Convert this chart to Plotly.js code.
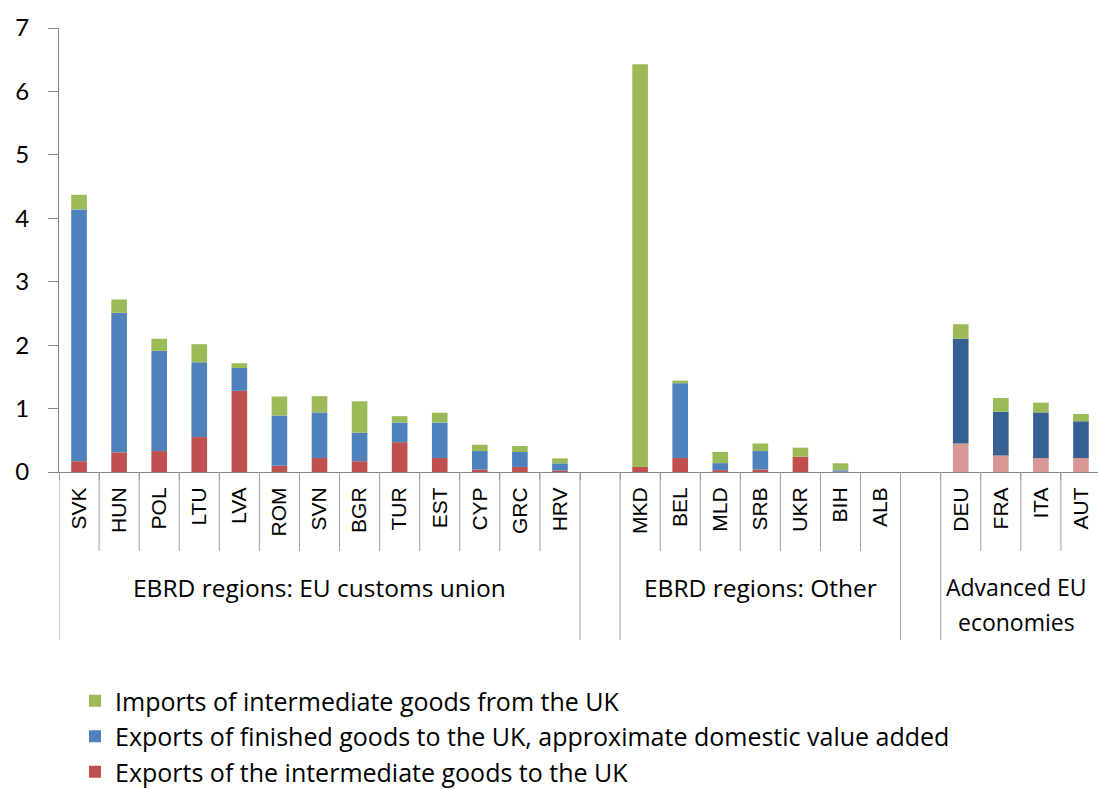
<!DOCTYPE html>
<html>
<head>
<meta charset="utf-8">
<script src="https://cdn.plot.ly/plotly-3.0.1.min.js"></script>
<style>html,body{margin:0;padding:0;background:#fff;overflow:hidden;width:1098px;height:789px;}</style>
</head>
<body>
<div id="chart" style="width:1098px;height:810px;"></div>
<script>
// Categories (spacers ' ' and '  ' separate the three groups)
const categories = ['SVK','HUN','POL','LTU','LVA','ROM','SVN','BGR','TUR','EST','CYP','GRC','HRV',' ',
                    'MKD','BEL','MLD','SRB','UKR','BIH','ALB','  ',
                    'DEU','FRA','ITA','AUT'];
const advancedEU = ['DEU','FRA','ITA','AUT'];

// Series values (percent)
const exportsIntermediate = [0.17,0.31,0.33,0.55,1.28,0.10,0.22,0.17,0.47,0.22,0.04,0.08,0.02,null,
                             0.08,0.22,0.03,0.04,0.24,0.005,0,null,
                             0.45,0.26,0.22,0.22];
const exportsFinished     = [3.97,2.20,1.58,1.18,0.36,0.79,0.72,0.45,0.31,0.56,0.29,0.235,0.117,null,
                             -0.02,1.18,0.11,0.29,0,0.022,0,null,
                             1.65,0.69,0.72,0.58];
const importsIntermediate = [0.23,0.21,0.19,0.285,0.075,0.30,0.255,0.495,0.10,0.155,0.10,0.095,0.078,null,
                             6.35,0.04,0.175,0.12,0.144,0.11,0,null,
                             0.23,0.217,0.153,0.115];

const seriesNames = ['Exports of the intermediate goods to the UK',
                     'Exports of finished goods to the UK, approximate domestic value added',
                     'Imports of intermediate goods from the UK'];
const groupLabels = ['EBRD regions: EU customs union','EBRD regions: Other','Advanced EU','economies'];
const yTicks = [0,1,2,3,4,5,6,7];

const colRed = '#C0504D', colRedLight = '#D99694';
const colBlue = '#4F81BD', colBlueDark = '#376092';
const colGreen = '#9BBB59';

function colors(base, adv) {
  return categories.map(c => advancedEU.includes(c) ? adv : base);
}

const traces = [
  {type:'bar', name:seriesNames[0], x:categories, y:exportsIntermediate,
   marker:{color:colors(colRed,colRedLight)}},
  {type:'bar', name:seriesNames[1], x:categories, y:exportsFinished,
   marker:{color:colors(colBlue,colBlueDark)}},
  {type:'bar', name:seriesNames[2], x:categories, y:importsIntermediate,
   marker:{color:colors(colGreen,colGreen)}}
];
traces.forEach(t => { t.hoverinfo = 'skip'; });

// geometry helpers (pixel offsets below the x axis -> paper units)
const figH = 810;
const plotTop = 28, plotBottom = 472;
const plotH = plotBottom - plotTop;
const py = px => (plotBottom - px) / plotH;

const shapes = [];
const longBounds = [-0.5, 12.5, 13.5, 20.5, 21.5];
const lineCol = '#A0A0A0';
for (let i = 0; i < categories.length - 1; i++) {
  const b = i + 0.5;
  if (longBounds.includes(b)) continue;
  if (categories[i].trim() === '' || categories[i+1].trim() === '') continue;
  shapes.push({type:'line', xref:'x', yref:'paper', x0:b, x1:b, y0:py(472), y1:py(551),
               line:{color:lineCol, width:1}});
}
longBounds.forEach(b => {
  shapes.push({type:'line', xref:'x', yref:'paper', x0:b, x1:b, y0:py(472), y1:py(640),
               line:{color:lineCol, width:1}});
});

const ann = (x, ypx, text, size) => ({xref:'x', yref:'paper', x:x, y:py(ypx), text:text, showarrow:false,
                                xanchor:'center', yanchor:'middle',
                                font:{family:'"Open Sans", Calibri, sans-serif', size:size, color:'#000'}});
const annotations = [
  ann(6, 587, groupLabels[0], 24.5),
  ann(17, 587, groupLabels[1], 24.5),
  ann(23.4, 587, groupLabels[2], 23),
  ann(23.4, 622, groupLabels[3], 23)
];

const layout = {
  width:1098, height:figH,
  margin:{l:59, r:0, t:plotTop, b:figH-plotBottom, pad:0},
  paper_bgcolor:'#fff', plot_bgcolor:'#fff',
  barmode:'relative', bargap:0.61,
  showlegend:true,
  legend:{orientation:'v', traceorder:'reversed', x:0.0154, xanchor:'left', y:py(678), yanchor:'top',
          font:{family:'"Open Sans", Calibri, sans-serif', size:25, color:'#000'}, bgcolor:'rgba(0,0,0,0)'},
  xaxis:{type:'category', categoryorder:'array', categoryarray:categories,
         range:[-0.5, 25.425], tickson:'boundaries', ticks:'outside', ticklen:7, tickcolor:'#868686',
         showline:true, linecolor:'#868686', linewidth:1, showgrid:false, zeroline:false,
         tickangle:-90, ticklabelstandoff:6,
         tickfont:{family:'"Liberation Sans", Arial, sans-serif', size:21, color:'#000'}, fixedrange:true},
  yaxis:{range:[0,7], tickvals:yTicks, ticktext:yTicks.map(String), ticks:'outside', ticklen:10,
         tickcolor:'#868686', showline:true, linecolor:'#868686', linewidth:1, showgrid:false,
         zeroline:false, ticklabelstandoff:14,
         tickfont:{family:'Lato, Calibri, sans-serif', size:24, color:'#000'}, fixedrange:true},
  shapes:shapes, annotations:annotations
};

Plotly.newPlot('chart', traces, layout, {staticPlot:true, displayModeBar:false});
</script>
</body>
</html>
